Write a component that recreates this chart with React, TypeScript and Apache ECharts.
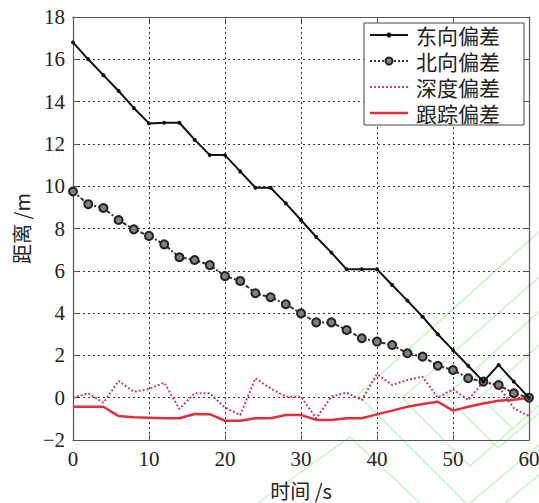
import React, { useEffect, useRef } from "react";
import * as echarts from "echarts";

const times = [0, 2, 4, 6, 8, 10, 12, 14, 16, 18, 20, 22, 24, 26, 28, 30, 32, 34, 36, 38, 40, 42, 44, 46, 48, 50, 52, 54, 56, 58, 60];
const eastDev = [16.8, 16.0, 15.25, 14.5, 13.7, 12.97, 13.0, 13.0, 12.2, 11.47, 11.47, 10.7, 9.93, 9.93, 9.19, 8.4, 7.6, 6.86, 6.07, 6.07, 6.07, 5.33, 4.59, 3.83, 3.0, 2.25, 1.51, 0.76, 1.55, 0.76, 0];
const northDev = [9.75, 9.15, 8.97, 8.4, 7.96, 7.65, 7.25, 6.64, 6.51, 6.27, 5.75, 5.52, 4.94, 4.75, 4.42, 3.99, 3.56, 3.56, 3.2, 2.81, 2.65, 2.49, 2.1, 1.94, 1.51, 1.31, 0.92, 0.76, 0.6, 0.21, 0];
const depthDev = [0, 0.21, -0.24, 0.79, 0.28, 0.41, 0.71, -0.53, 0.21, 0.21, -0.47, -0.82, 0.92, 0.44, 0.05, 0.05, -0.98, 0.05, 0.24, -0.11, 1.12, 0.6, 0.84, 0.99, 0, 0.4, -0.11, 0.76, 0.55, -0.5, -0.87];
const trackDev = [-0.43, -0.43, -0.43, -0.87, -0.93, -0.95, -0.97, -0.97, -0.77, -0.78, -1.09, -1.09, -0.97, -0.97, -0.82, -0.82, -1.05, -1.05, -0.97, -0.97, -0.79, -0.61, -0.43, -0.3, -0.19, -0.61, -0.43, -0.27, -0.14, -0.1, 0];
const seriesNames = ["东向偏差", "北向偏差", "深度偏差", "跟踪偏差"];
const xName = "时间 /s";
const yName = "距离 /m";

const serif = "Liberation Serif";
const cjk = "Noto Sans CJK SC";

const EAST_C = "#111";
const NORTH_LINE = "#333";
const DEPTH_C = "#c8406a";
const TRACK_C = "#e0303c";
const WM = "#c6f3c6";

const pair = (ys: number[]) => times.map((t, i) => [t, ys[i]]);

export default function App() {
  const ref = useRef<HTMLDivElement>(null);
  useEffect(() => {
    if (!ref.current) return;
    const chart = echarts.init(ref.current, undefined, { renderer: "svg" });
    const gridLine = { show: true, lineStyle: { color: "#333", type: [2, 3] as any, width: 1 } };
    const axisCommon = {
      axisLine: { show: true, onZero: false, lineStyle: { color: "#555", width: 1.2 } },
      axisTick: { show: true, inside: true, length: 5, lineStyle: { color: "#555" } },
    };
    const minus = (v: number) => String(v).replace("-", "−");

    // legend drawn with graphic elements
    const lx0 = 370, lx1 = 408, tx = 416;
    const lh = 26;
    const ly = seriesNames.map((_, i) => 35 + lh * i);
    const legendEls: any[] = [
      { type: "rect", shape: { x: 364, y: 23, width: 160, height: 102 }, style: { fill: "#fff", stroke: "#444", lineWidth: 1 }, z: 100 },
    ];
    const lineStyles = [
      { stroke: EAST_C, lineWidth: 2 },
      { stroke: NORTH_LINE, lineWidth: 2, lineDash: [2, 2] },
      { stroke: DEPTH_C, lineWidth: 2, lineDash: [2, 2] },
      { stroke: TRACK_C, lineWidth: 2.5 },
    ];
    seriesNames.forEach((n, i) => {
      legendEls.push({ type: "line", shape: { x1: lx0, y1: ly[i], x2: lx1, y2: ly[i] }, style: lineStyles[i], z: 101 });
    });
    legendEls.push({
      type: "text", x: tx, y: ly[0] - lh / 2,
      style: { text: seriesNames.join("\n"), fontSize: 21, fontFamily: cjk, lineHeight: lh, fill: "#222", verticalAlign: "top" },
      z: 101,
    });
    legendEls.push({ type: "circle", shape: { cx: (lx0 + lx1) / 2, cy: ly[0], r: 2.5 }, style: { fill: EAST_C }, z: 102 });
    legendEls.push({ type: "circle", shape: { cx: (lx0 + lx1) / 2, cy: ly[1], r: 3.5 }, style: { fill: "#888", stroke: "#222", lineWidth: 2 }, z: 102 });

    const wmLines: number[][][] = [
      [[545, 226], [358, 395], [466, 503]],
      [[545, 272], [402, 398], [470, 466], [545, 400]],
      [[545, 306], [446, 396], [498, 448], [545, 408]],
      [[545, 340], [480, 397], [514, 430]],
      [[258, 503], [350, 437], [420, 503]],
      [[470, 503], [545, 440]],
      [[505, 503], [545, 470]],
    ];
    const wmEls = wmLines.map((pts) => ({ type: "polyline", shape: { points: pts }, style: { stroke: WM, lineWidth: 1.5, fill: null }, z: -1, silent: true }));

    chart.setOption({
      animation: false,
      backgroundColor: "#fff",
      grid: { left: 73, right: 10, top: 17, bottom: 63, containLabel: false, outerBoundsMode: "none" },
      xAxis: [
        {
          type: "value", min: 0, max: 60, interval: 10, position: "bottom",
          ...axisCommon,
          splitLine: gridLine,
          axisLabel: { color: "#222", fontSize: 21, fontFamily: serif, margin: 8, formatter: minus },
          name: xName, nameLocation: "middle", nameGap: 40,
          nameTextStyle: { color: "#222", fontSize: 20, fontFamily: cjk },
        },
        {
          type: "value", min: 0, max: 60, interval: 10, position: "top",
          ...axisCommon, splitLine: { show: false }, axisLabel: { show: false },
        },
      ],
      yAxis: [
        {
          type: "value", min: -2, max: 18, interval: 2, position: "left",
          ...axisCommon,
          splitLine: gridLine,
          axisLabel: { color: "#222", fontSize: 21, fontFamily: serif, margin: 8, formatter: minus },
          name: yName, nameLocation: "middle", nameGap: 36, nameRotate: 90,
          nameTextStyle: { color: "#222", fontSize: 20, fontFamily: cjk },
        },
        {
          type: "value", min: -2, max: 18, interval: 2, position: "right",
          ...axisCommon, splitLine: { show: false }, axisLabel: { show: false },
        },
      ],
      graphic: [...wmEls, ...legendEls],
      series: [
        {
          name: seriesNames[0], type: "line", data: pair(eastDev),
          symbol: "circle", symbolSize: 4,
          itemStyle: { color: EAST_C },
          lineStyle: { color: EAST_C, width: 2 },
          z: 4,
        },
        {
          name: seriesNames[1], type: "line", data: pair(northDev),
          symbol: "circle", symbolSize: 8,
          itemStyle: { color: "#808080", borderColor: "#222", borderWidth: 2 },
          lineStyle: { color: NORTH_LINE, width: 2, type: [4, 2, 2, 2] as any },
          z: 3,
        },
        {
          name: seriesNames[2], type: "line", data: pair(depthDev),
          symbol: "none",
          lineStyle: { color: DEPTH_C, width: 2, type: [2, 2] as any },
          z: 2,
        },
        {
          name: seriesNames[3], type: "line", data: pair(trackDev),
          symbol: "none",
          lineStyle: { color: TRACK_C, width: 2.5 },
          z: 2,
        },
      ],
    });
    return () => chart.dispose();
  }, []);
  return <div ref={ref} style={{ width: 539, height: 503, position: "absolute", left: 0, top: 0 }} />;
}
